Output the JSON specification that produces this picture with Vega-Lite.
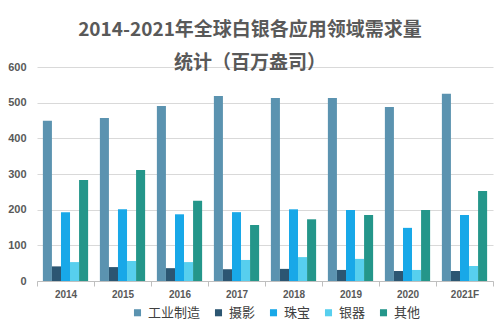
{
  "$schema": "https://vega.github.io/schema/vega-lite/v6.json",
  "width": 456,
  "height": 214,
  "autosize": {"type": "none"},
  "padding": {"left": 37, "top": 67, "right": 7, "bottom": 50},
  "background": "white",
  "title": {
    "text": ["2014-2021年全球白银各应用领域需求量", "统计（百万盎司）"],
    "font": "Noto Sans CJK SC",
    "fontSize": 19,
    "fontWeight": "bold",
    "color": "#595959",
    "anchor": "middle",
    "dx": -15,
    "lineHeight": 33,
    "offset": -12
  },
  "data": {
    "values": [
      {"year": "2014", "series": "工业制造", "value": 449},
      {"year": "2014", "series": "摄影", "value": 41},
      {"year": "2014", "series": "珠宝", "value": 193},
      {"year": "2014", "series": "银器", "value": 53},
      {"year": "2014", "series": "其他", "value": 283},
      {"year": "2015", "series": "工业制造", "value": 457},
      {"year": "2015", "series": "摄影", "value": 39},
      {"year": "2015", "series": "珠宝", "value": 201},
      {"year": "2015", "series": "银器", "value": 56},
      {"year": "2015", "series": "其他", "value": 311},
      {"year": "2016", "series": "工业制造", "value": 491},
      {"year": "2016", "series": "摄影", "value": 36},
      {"year": "2016", "series": "珠宝", "value": 187},
      {"year": "2016", "series": "银器", "value": 53},
      {"year": "2016", "series": "其他", "value": 225},
      {"year": "2017", "series": "工业制造", "value": 519},
      {"year": "2017", "series": "摄影", "value": 33},
      {"year": "2017", "series": "珠宝", "value": 193},
      {"year": "2017", "series": "银器", "value": 59},
      {"year": "2017", "series": "其他", "value": 157},
      {"year": "2018", "series": "工业制造", "value": 513},
      {"year": "2018", "series": "摄影", "value": 34},
      {"year": "2018", "series": "珠宝", "value": 201},
      {"year": "2018", "series": "银器", "value": 67},
      {"year": "2018", "series": "其他", "value": 173},
      {"year": "2019", "series": "工业制造", "value": 513},
      {"year": "2019", "series": "摄影", "value": 31},
      {"year": "2019", "series": "珠宝", "value": 199},
      {"year": "2019", "series": "银器", "value": 62},
      {"year": "2019", "series": "其他", "value": 185},
      {"year": "2020", "series": "工业制造", "value": 488},
      {"year": "2020", "series": "摄影", "value": 28},
      {"year": "2020", "series": "珠宝", "value": 149},
      {"year": "2020", "series": "银器", "value": 31},
      {"year": "2020", "series": "其他", "value": 199},
      {"year": "2021F", "series": "工业制造", "value": 525},
      {"year": "2021F", "series": "摄影", "value": 28},
      {"year": "2021F", "series": "珠宝", "value": 185},
      {"year": "2021F", "series": "银器", "value": 42},
      {"year": "2021F", "series": "其他", "value": 252}
    ]
  },
  "mark": {"type": "bar"},
  "encoding": {
    "x": {
      "field": "year",
      "type": "nominal",
      "scale": {"paddingInner": 0, "paddingOuter": 0},
      "axis": {
        "title": null,
        "labelAngle": 0,
        "tickBand": "extent",
        "ticks": true,
        "tickSize": 5,
        "tickColor": "#bfbfbf",
        "domainColor": "#bfbfbf",
        "labelFont": "Liberation Sans",
        "labelFontWeight": "bold",
        "labelFontSize": 10,
        "labelColor": "#595959",
        "labelPadding": 3
      }
    },
    "xOffset": {
      "field": "series",
      "sort": ["工业制造", "摄影", "珠宝", "银器", "其他"],
      "scale": {"paddingOuter": 0.65, "paddingInner": 0}
    },
    "y": {
      "field": "value",
      "type": "quantitative",
      "scale": {"domain": [0, 600]},
      "axis": {
        "title": null,
        "values": [0, 100, 200, 300, 400, 500, 600],
        "domain": false,
        "ticks": false,
        "grid": true,
        "gridColor": "#d9d9d9",
        "labelFont": "Liberation Sans",
        "labelFontWeight": "bold",
        "labelFontSize": 11,
        "labelColor": "#595959",
        "labelPadding": 11
      }
    },
    "color": {
      "field": "series",
      "type": "nominal",
      "sort": ["工业制造", "摄影", "珠宝", "银器", "其他"],
      "scale": {
        "domain": ["工业制造", "摄影", "珠宝", "银器", "其他"],
        "range": ["#5b93b0", "#2c5672", "#18a8e8", "#57cfee", "#24968a"]
      },
      "legend": {
        "title": null,
        "orient": "none",
        "legendX": 94,
        "legendY": 239,
        "direction": "horizontal",
        "symbolType": "square",
        "symbolSize": 50,
        "labelFont": "Noto Sans CJK SC",
        "labelFontSize": 13,
        "labelColor": "#404040",
        "columnPadding": 11
      }
    }
  },
  "config": {
    "view": {"stroke": null}
  }
}
